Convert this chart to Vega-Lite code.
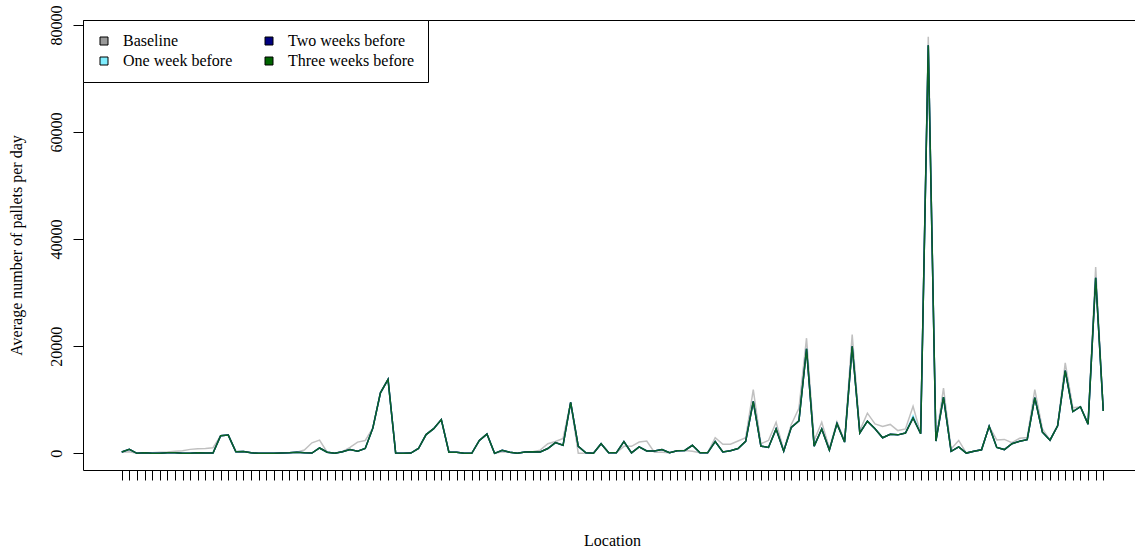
{
  "$schema": "https://vega.github.io/schema/vega-lite/v6.json",
  "width": 1053,
  "height": 450,
  "autosize": {"type": "none"},
  "padding": {"left": 83, "top": 20, "right": 0, "bottom": 80},
  "background": "white",
  "config": {"view": {"stroke": "black", "strokeWidth": 1}, "font": "Liberation Serif"},
  "data": {"values": [
    {"i":0,"b":200,"w1":250,"w2":250,"w3":250},
    {"i":1,"b":300,"w1":750,"w2":750,"w3":750},
    {"i":2,"b":0,"w1":0,"w2":0,"w3":0},
    {"i":3,"b":100,"w1":100,"w2":100,"w3":100},
    {"i":4,"b":100,"w1":0,"w2":0,"w3":0},
    {"i":5,"b":200,"w1":0,"w2":0,"w3":0},
    {"i":6,"b":250,"w1":100,"w2":100,"w3":100},
    {"i":7,"b":370,"w1":100,"w2":100,"w3":100},
    {"i":8,"b":490,"w1":0,"w2":0,"w3":0},
    {"i":9,"b":740,"w1":0,"w2":0,"w3":0},
    {"i":10,"b":860,"w1":100,"w2":100,"w3":100},
    {"i":11,"b":920,"w1":50,"w2":50,"w3":50},
    {"i":12,"b":1050,"w1":50,"w2":50,"w3":50},
    {"i":13,"b":3300,"w1":3300,"w2":3300,"w3":3300},
    {"i":14,"b":3400,"w1":3400,"w2":3400,"w3":3400},
    {"i":15,"b":300,"w1":300,"w2":300,"w3":300},
    {"i":16,"b":350,"w1":350,"w2":350,"w3":350},
    {"i":17,"b":100,"w1":100,"w2":100,"w3":100},
    {"i":18,"b":0,"w1":0,"w2":0,"w3":0},
    {"i":19,"b":0,"w1":0,"w2":0,"w3":0},
    {"i":20,"b":0,"w1":0,"w2":0,"w3":0},
    {"i":21,"b":50,"w1":50,"w2":50,"w3":50},
    {"i":22,"b":100,"w1":100,"w2":100,"w3":100},
    {"i":23,"b":200,"w1":200,"w2":200,"w3":200},
    {"i":24,"b":620,"w1":100,"w2":100,"w3":100},
    {"i":25,"b":1970,"w1":50,"w2":50,"w3":50},
    {"i":26,"b":2460,"w1":1000,"w2":1000,"w3":1000},
    {"i":27,"b":200,"w1":200,"w2":200,"w3":200},
    {"i":28,"b":0,"w1":0,"w2":0,"w3":0},
    {"i":29,"b":300,"w1":300,"w2":300,"w3":300},
    {"i":30,"b":1100,"w1":700,"w2":700,"w3":700},
    {"i":31,"b":2100,"w1":400,"w2":400,"w3":400},
    {"i":32,"b":2400,"w1":900,"w2":900,"w3":900},
    {"i":33,"b":4700,"w1":4700,"w2":4700,"w3":4700},
    {"i":34,"b":11300,"w1":11300,"w2":11300,"w3":11300},
    {"i":35,"b":13800,"w1":13800,"w2":13800,"w3":13800},
    {"i":36,"b":50,"w1":50,"w2":50,"w3":50},
    {"i":37,"b":0,"w1":0,"w2":0,"w3":0},
    {"i":38,"b":50,"w1":50,"w2":50,"w3":50},
    {"i":39,"b":900,"w1":900,"w2":900,"w3":900},
    {"i":40,"b":3500,"w1":3500,"w2":3500,"w3":3500},
    {"i":41,"b":4600,"w1":4600,"w2":4600,"w3":4600},
    {"i":42,"b":6300,"w1":6300,"w2":6300,"w3":6300},
    {"i":43,"b":200,"w1":200,"w2":200,"w3":200},
    {"i":44,"b":200,"w1":200,"w2":200,"w3":200},
    {"i":45,"b":0,"w1":0,"w2":0,"w3":0},
    {"i":46,"b":0,"w1":0,"w2":0,"w3":0},
    {"i":47,"b":2400,"w1":2400,"w2":2400,"w3":2400},
    {"i":48,"b":3600,"w1":3600,"w2":3600,"w3":3600},
    {"i":49,"b":0,"w1":0,"w2":0,"w3":0},
    {"i":50,"b":300,"w1":550,"w2":550,"w3":550},
    {"i":51,"b":200,"w1":200,"w2":200,"w3":200},
    {"i":52,"b":0,"w1":0,"w2":0,"w3":0},
    {"i":53,"b":250,"w1":250,"w2":250,"w3":250},
    {"i":54,"b":300,"w1":300,"w2":300,"w3":300},
    {"i":55,"b":600,"w1":250,"w2":250,"w3":250},
    {"i":56,"b":1800,"w1":900,"w2":900,"w3":900},
    {"i":57,"b":2200,"w1":2000,"w2":2000,"w3":2000},
    {"i":58,"b":2800,"w1":1500,"w2":1500,"w3":1500},
    {"i":59,"b":9500,"w1":9500,"w2":9500,"w3":9500},
    {"i":60,"b":0,"w1":1300,"w2":1300,"w3":1300},
    {"i":61,"b":0,"w1":100,"w2":100,"w3":100},
    {"i":62,"b":0,"w1":0,"w2":0,"w3":0},
    {"i":63,"b":1800,"w1":1800,"w2":1800,"w3":1800},
    {"i":64,"b":100,"w1":100,"w2":100,"w3":100},
    {"i":65,"b":100,"w1":100,"w2":100,"w3":100},
    {"i":66,"b":1300,"w1":2200,"w2":2200,"w3":2200},
    {"i":67,"b":1300,"w1":100,"w2":100,"w3":100},
    {"i":68,"b":2100,"w1":1200,"w2":1200,"w3":1200},
    {"i":69,"b":2300,"w1":450,"w2":450,"w3":450},
    {"i":70,"b":200,"w1":450,"w2":450,"w3":450},
    {"i":71,"b":200,"w1":700,"w2":700,"w3":700},
    {"i":72,"b":100,"w1":120,"w2":120,"w3":120},
    {"i":73,"b":500,"w1":500,"w2":500,"w3":500},
    {"i":74,"b":550,"w1":550,"w2":550,"w3":550},
    {"i":75,"b":400,"w1":1500,"w2":1500,"w3":1500},
    {"i":76,"b":100,"w1":100,"w2":100,"w3":100},
    {"i":77,"b":100,"w1":100,"w2":100,"w3":100},
    {"i":78,"b":2900,"w1":2200,"w2":2200,"w3":2200},
    {"i":79,"b":1700,"w1":250,"w2":250,"w3":250},
    {"i":80,"b":1700,"w1":500,"w2":500,"w3":500},
    {"i":81,"b":2300,"w1":900,"w2":900,"w3":900},
    {"i":82,"b":2900,"w1":2250,"w2":2250,"w3":2250},
    {"i":83,"b":11900,"w1":9700,"w2":9700,"w3":9700},
    {"i":84,"b":1800,"w1":1350,"w2":1350,"w3":1350},
    {"i":85,"b":2400,"w1":1100,"w2":1100,"w3":1100},
    {"i":86,"b":5800,"w1":4550,"w2":4550,"w3":4550},
    {"i":87,"b":600,"w1":400,"w2":400,"w3":400},
    {"i":88,"b":5400,"w1":4850,"w2":4850,"w3":4850},
    {"i":89,"b":8400,"w1":6050,"w2":6050,"w3":6050},
    {"i":90,"b":21500,"w1":19500,"w2":19500,"w3":19500},
    {"i":91,"b":2400,"w1":1350,"w2":1350,"w3":1350},
    {"i":92,"b":5800,"w1":4550,"w2":4550,"w3":4550},
    {"i":93,"b":900,"w1":600,"w2":600,"w3":600},
    {"i":94,"b":5900,"w1":5550,"w2":5550,"w3":5550},
    {"i":95,"b":2400,"w1":2100,"w2":2100,"w3":2100},
    {"i":96,"b":22200,"w1":20000,"w2":20000,"w3":20000},
    {"i":97,"b":4250,"w1":3800,"w2":3800,"w3":3800},
    {"i":98,"b":7500,"w1":6000,"w2":6000,"w3":6000},
    {"i":99,"b":5500,"w1":4600,"w2":4600,"w3":4600},
    {"i":100,"b":5000,"w1":2900,"w2":2900,"w3":2900},
    {"i":101,"b":5400,"w1":3550,"w2":3550,"w3":3550},
    {"i":102,"b":4250,"w1":3450,"w2":3450,"w3":3450},
    {"i":103,"b":4550,"w1":3800,"w2":3800,"w3":3800},
    {"i":104,"b":8800,"w1":7000,"w2":6600,"w3":6600},
    {"i":105,"b":3700,"w1":3650,"w2":3650,"w3":3650},
    {"i":106,"b":77800,"w1":76200,"w2":76200,"w3":76200},
    {"i":107,"b":2400,"w1":2300,"w2":2300,"w3":2300},
    {"i":108,"b":12200,"w1":10500,"w2":10500,"w3":10500},
    {"i":109,"b":800,"w1":370,"w2":370,"w3":370},
    {"i":110,"b":2400,"w1":1200,"w2":1200,"w3":1200},
    {"i":111,"b":50,"w1":50,"w2":50,"w3":50},
    {"i":112,"b":400,"w1":400,"w2":400,"w3":400},
    {"i":113,"b":650,"w1":650,"w2":650,"w3":650},
    {"i":114,"b":5050,"w1":5050,"w2":5050,"w3":5050},
    {"i":115,"b":2500,"w1":1100,"w2":1100,"w3":1100},
    {"i":116,"b":2600,"w1":700,"w2":700,"w3":700},
    {"i":117,"b":2000,"w1":1800,"w2":1800,"w3":1800},
    {"i":118,"b":2800,"w1":2250,"w2":2250,"w3":2250},
    {"i":119,"b":2950,"w1":2550,"w2":2550,"w3":2550},
    {"i":120,"b":11900,"w1":10400,"w2":10400,"w3":10400},
    {"i":121,"b":4550,"w1":3950,"w2":3950,"w3":3950},
    {"i":122,"b":2450,"w1":2450,"w2":2450,"w3":2450},
    {"i":123,"b":5150,"w1":5150,"w2":5150,"w3":5150},
    {"i":124,"b":16900,"w1":15450,"w2":15450,"w3":15450},
    {"i":125,"b":8500,"w1":7800,"w2":7800,"w3":7800},
    {"i":126,"b":8700,"w1":8700,"w2":8700,"w3":8700},
    {"i":127,"b":5450,"w1":5450,"w2":5450,"w3":5450},
    {"i":128,"b":34800,"w1":32800,"w2":32800,"w3":32800},
    {"i":129,"b":7900,"w1":7900,"w2":7900,"w3":7900}
  ]},
  "encoding": {
    "x": {
      "field": "i",
      "type": "quantitative",
      "scale": {"domain": [-5.09, 133.3], "nice": false, "zero": false},
      "axis": {
        "values": [0,1,2,3,4,5,6,7,8,9,10,11,12,13,14,15,16,17,18,19,20,21,22,23,24,25,26,27,28,29,30,31,32,33,34,35,36,37,38,39,40,41,42,43,44,45,46,47,48,49,50,51,52,53,54,55,56,57,58,59,60,61,62,63,64,65,66,67,68,69,70,71,72,73,74,75,76,77,78,79,80,81,82,83,84,85,86,87,88,89,90,91,92,93,94,95,96,97,98,99,100,101,102,103,104,105,106,107,108,109,110,111,112,113,114,115,116,117,118,119,120,121,122,123,124,125,126,127,128,129],
        "labels": false,
        "domain": false,
        "grid": false,
        "ticks": true,
        "tickSize": 10,
        "tickColor": "black",
        "tickWidth": 1,
        "title": "Location",
        "titleFont": "Liberation Serif",
        "titleFontSize": 16,
        "titleFontWeight": "normal",
        "titleColor": "black",
        "titleX": 529,
        "titleY": 70,
        "titleAlign": "center",
        "titleBaseline": "middle"
      }
    }
  },
  "layer": [
    {
      "mark": {"type": "line", "strokeWidth": 1.5},
      "encoding": {
        "y": {
          "field": "b",
          "type": "quantitative",
          "scale": {"domain": [-3112, 80912], "nice": false, "zero": false},
          "axis": {
            "values": [0, 20000, 40000, 60000, 80000],
            "format": "d",
            "domain": false,
            "grid": false,
            "tickSize": 10,
            "tickColor": "black",
            "labelAngle": 270,
            "labelAlign": "center",
            "labelBaseline": "middle",
            "labelPadding": 17,
            "labelFont": "Liberation Serif",
            "labelFontSize": 16,
            "labelColor": "black",
            "labelFlush": false,
            "title": "Average number of pallets per day",
            "titleFont": "Liberation Serif",
            "titleFontSize": 16,
            "titleFontWeight": "normal",
            "titleColor": "black",
            "titleAngle": 270,
            "titleX": -67,
            "titleY": 225,
            "titleAlign": "center",
            "titleBaseline": "middle"
          }
        },
        "stroke": {
          "datum": "line_base",
          "type": "nominal",
          "scale": {
            "domain": ["line_base", "line_one", "line_two", "line_three"],
            "range": ["#c0c0c0", "#80eeff", "#000080", "#0b6328"]
          },
          "legend": null
        }
      }
    },
    {
      "mark": {"type": "line", "strokeWidth": 1.5},
      "encoding": {
        "y": {"field": "w1", "type": "quantitative", "title": "Average number of pallets per day"},
        "stroke": {"datum": "line_one", "type": "nominal"}
      }
    },
    {
      "mark": {"type": "line", "strokeWidth": 1.5},
      "encoding": {
        "y": {"field": "w2", "type": "quantitative", "title": "Average number of pallets per day"},
        "stroke": {"datum": "line_two", "type": "nominal"}
      }
    },
    {
      "mark": {"type": "line", "strokeWidth": 1.5},
      "encoding": {
        "y": {"field": "w3", "type": "quantitative", "title": "Average number of pallets per day"},
        "stroke": {"datum": "line_three", "type": "nominal"}
      }
    },
    {
      "mark": {"type": "square", "filled": true, "size": 0, "opacity": 0, "stroke": "black", "strokeWidth": 1},
      "encoding": {
        "y": {"field": "w3", "type": "quantitative", "title": "Average number of pallets per day"},
        "color": {
          "datum": "Baseline",
          "type": "nominal",
          "scale": {
            "domain": ["Baseline", "One week before", "Two weeks before", "Three weeks before"],
            "range": ["#999999", "#80eeff", "#000080", "#006400"]
          },
          "legend": {
            "orient": "none",
            "legendX": 0,
            "legendY": 0,
            "columns": 2,
            "title": null,
            "symbolType": "square",
            "symbolSize": 64,
            "symbolStrokeColor": "black",
            "symbolStrokeWidth": 1,
            "symbolOpacity": 1,
            "labelFont": "Liberation Serif",
            "labelFontSize": 16,
            "labelColor": "black",
            "labelOffset": 11,
            "labelLimit": 300,
            "columnPadding": 28,
            "rowPadding": 4,
            "padding": 13,
            "strokeColor": "black",
            "fillColor": "white",
            "cornerRadius": 0
          }
        }
      }
    }
  ]
}
